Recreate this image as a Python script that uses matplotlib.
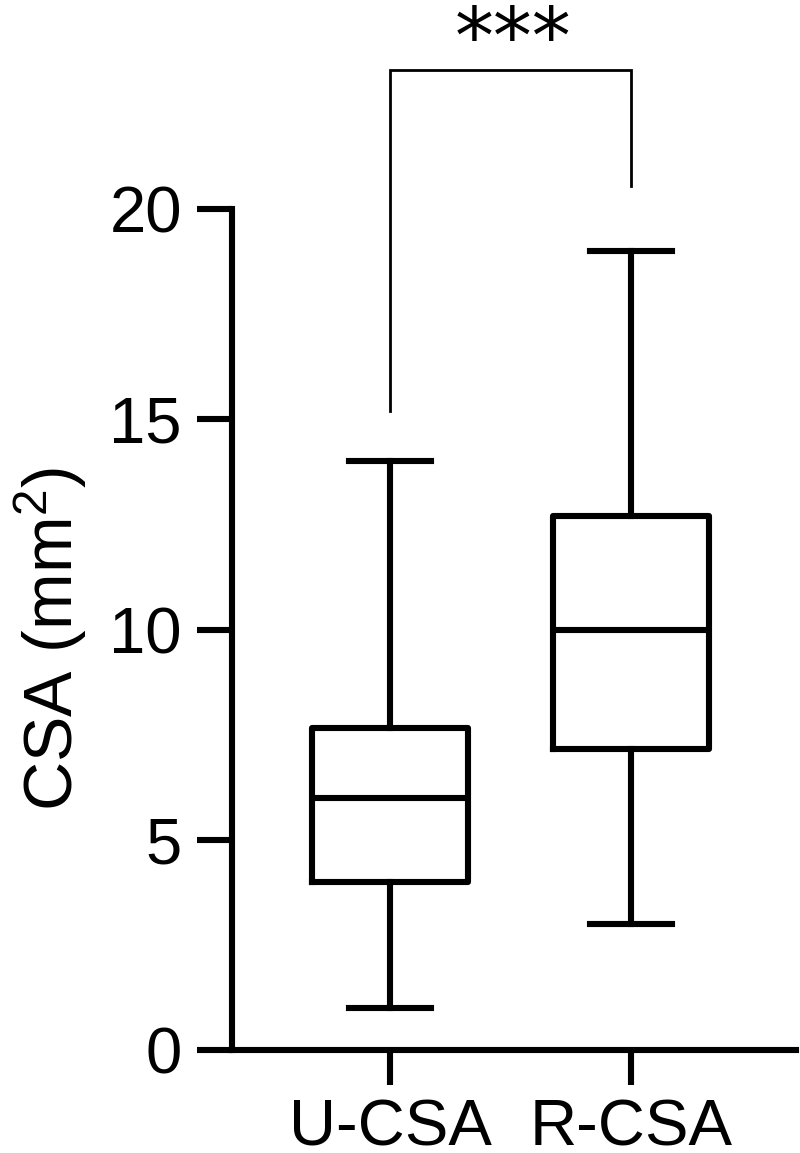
"""Box plot of CSA (mm2), U-CSA vs R-CSA"""

import matplotlib
matplotlib.use("Agg")
import matplotlib.pyplot as plt

plt.rcParams["font.family"] = ["Liberation Sans", "DejaVu Sans"]
plt.rcParams["mathtext.default"] = "regular"

# data
groups = ["U-CSA", "R-CSA"]
whisker_low = [1.0, 3.0]
q1 = [4.0, 7.15]
median = [6.0, 10.0]
q3 = [7.65, 12.7]
whisker_high = [14.0, 19.0]
y_ticks = [0, 5, 10, 15, 20]
sig_label = "***"

LW = 4.4
FS = 47

fig = plt.figure(figsize=(8, 11.53), dpi=100)
ax = fig.add_axes([0.29, 0.0893, 0.705, 0.9118])

stats = []
for i in range(len(groups)):
    stats.append({
        "label": groups[i],
        "whislo": whisker_low[i],
        "q1": q1[i],
        "med": median[i],
        "q3": q3[i],
        "whishi": whisker_high[i],
        "fliers": [],
    })

line = {"color": "black", "linewidth": LW}
ax.bxp(
    stats,
    positions=[1, 2],
    widths=0.65,
    capwidths=0.34,
    showfliers=False,
    boxprops=line,
    whiskerprops=line,
    capprops=line,
    medianprops=line,
)

# significance bracket
top = 23.3
ax.plot([1, 1, 2, 2], [15.2, top, top, 20.55], color="black", linewidth=2.0,
        clip_on=False, solid_joinstyle="miter")
ax.text(1.51, 23.48, sig_label, ha="center", va="baseline", fontsize=56,
        family="DejaVu Sans", clip_on=False)

ax.set_xlim(0.344, 2.685)
ax.set_ylim(0, 25)
ax.set_yticks(y_ticks)
ax.set_xticks([1, 2])
ax.set_xticklabels(groups)

for s in ["top", "right"]:
    ax.spines[s].set_visible(False)
ax.spines["left"].set_bounds(0, 20)
ax.spines["left"].set_linewidth(LW)
ax.spines["bottom"].set_linewidth(LW)

ax.tick_params(axis="both", direction="out", length=25, width=LW, labelsize=FS)
ax.tick_params(axis="y", pad=11)
ax.tick_params(axis="x", pad=10)

ax.set_ylabel("CSA (mm$^2$)", fontsize=49, va="center")
ax.yaxis.set_label_coords(-0.321, 0.391)

fig.savefig("out.png", dpi=100)
